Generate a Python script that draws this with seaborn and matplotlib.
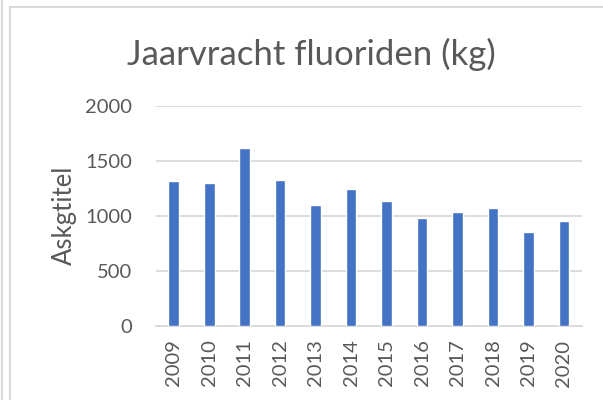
import matplotlib
matplotlib.use("Agg")
import matplotlib.pyplot as plt
import seaborn as sns
import pandas as pd
from matplotlib.patches import Rectangle
from matplotlib.lines import Line2D

years = ["2009", "2010", "2011", "2012", "2013", "2014",
         "2015", "2016", "2017", "2018", "2019", "2020"]
vracht = [1312, 1294, 1615, 1321, 1097, 1239, 1136, 979, 1036, 1073, 852, 955]
yticks = [0, 500, 1000, 1500, 2000]

df = pd.DataFrame({"jaar": years, "vracht": vracht})

sns.set_style("white")
plt.rcParams["font.family"] = ["Lato", "DejaVu Sans"]

text_col = "#595959"
grid_col = "#D9D9D9"

fig = plt.figure(figsize=(6.03, 4.0), dpi=100)
ax = fig.add_axes([0.2587, 0.1857, 0.706, 0.55])

sns.barplot(data=df, x="jaar", y="vracht", color="#4472C4", saturation=1,
            width=0.3, ax=ax, zorder=3)

ax.set_ylim(0, 2000)
ax.set_xlim(-0.5, len(years) - 0.5)
ax.set_yticks(yticks)
ax.set_yticklabels([str(t) for t in yticks])
ax.yaxis.grid(True, color=grid_col, linewidth=1.3, zorder=0)
ax.set_axisbelow(True)
for side in ["top", "right", "left"]:
    ax.spines[side].set_visible(False)
ax.spines["bottom"].set_color(grid_col)
ax.spines["bottom"].set_linewidth(1.3)
ax.tick_params(axis="both", length=0, colors=text_col, labelsize=14.5)
ax.tick_params(axis="y", pad=17)
ax.tick_params(axis="x", pad=10)
plt.setp(ax.get_xticklabels(), rotation=90)
ax.set_xlabel("")
ax.set_ylabel("Askgtitel", color=text_col, fontsize=18.5, labelpad=6)

fig.text(0.516, 0.865, "Jaarvracht fluoriden (kg)", ha="center", va="center",
         color=text_col, fontsize=25)

# chart area border, as in the spreadsheet screenshot
fig.patches.append(Rectangle((10 / 603, -0.05), 1.0, 1 - 7 / 400 + 0.05,
                             transform=fig.transFigure, fill=False,
                             edgecolor=grid_col, linewidth=1.5))
fig.lines.append(Line2D([2 / 603, 2 / 603], [0, 1], transform=fig.transFigure,
                        color=grid_col, linewidth=1.5))

fig.savefig("out.png", dpi=100)
